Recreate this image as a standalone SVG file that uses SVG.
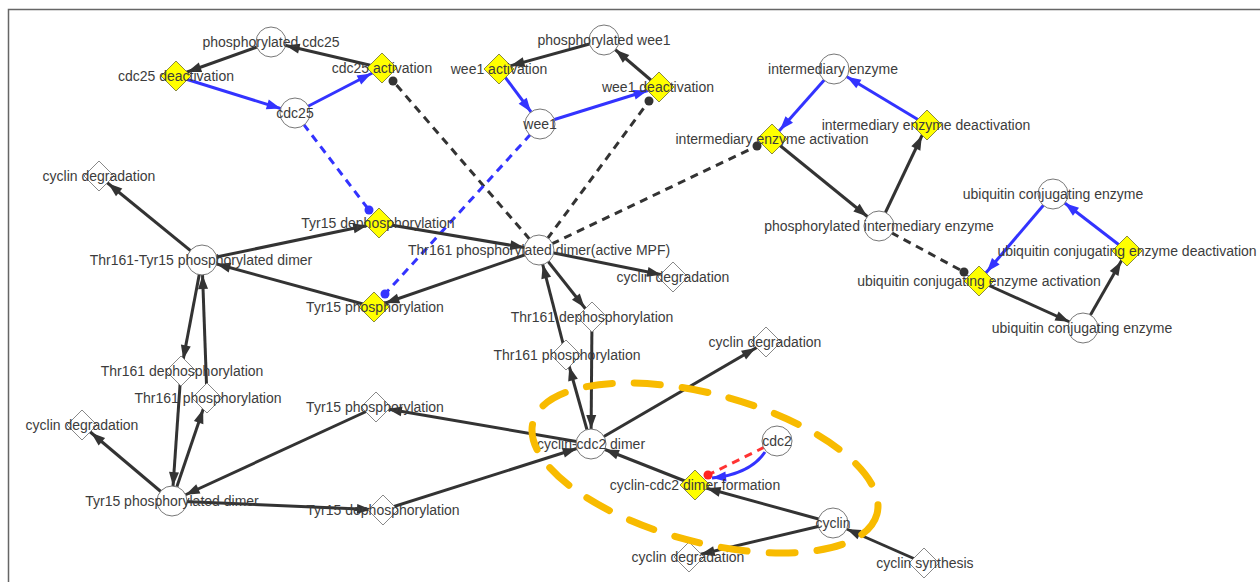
<svg xmlns="http://www.w3.org/2000/svg" xmlns:xlink="http://www.w3.org/1999/xlink" width="1260" height="582" viewBox="0 0 1260 582">
<style>
.e{stroke:#333;stroke-width:3;fill:none}
.eb{stroke:#3333ff;stroke-width:3;fill:none}
.ed{stroke:#333;stroke-width:3;fill:none;stroke-dasharray:8 6}
.ebd{stroke:#3333ff;stroke-width:3;fill:none;stroke-dasharray:8 6}
.erd{stroke:#ff3333;stroke-width:3;fill:none;stroke-dasharray:8 6}
.n{fill:#fff;stroke:#777;stroke-width:1}
.dy{fill:#ffff00;stroke:#8a8a40;stroke-width:1}
.dw{fill:#fff;stroke:#888;stroke-width:1}
.t{font-family:"Liberation Sans",Arial,sans-serif;font-size:14px;fill:#3c3c3c;text-anchor:middle}
</style>
<defs>
<polygon id="dia" points="0,-15 15,0 0,15 -15,0"/>
<marker id="aBc" markerUnits="userSpaceOnUse" markerWidth="30" markerHeight="12" refX="29" refY="5" orient="auto" overflow="visible"><path d="M0,0 L14,5 L0,10 z" fill="#333"/></marker>
<marker id="aBd" markerUnits="userSpaceOnUse" markerWidth="30" markerHeight="12" refX="26" refY="5" orient="auto" overflow="visible"><path d="M0,0 L14,5 L0,10 z" fill="#333"/></marker>
<marker id="aUc" markerUnits="userSpaceOnUse" markerWidth="30" markerHeight="12" refX="29" refY="5" orient="auto" overflow="visible"><path d="M0,0 L14,5 L0,10 z" fill="#3333ff"/></marker>
<marker id="aUd" markerUnits="userSpaceOnUse" markerWidth="30" markerHeight="12" refX="26" refY="5" orient="auto" overflow="visible"><path d="M0,0 L14,5 L0,10 z" fill="#3333ff"/></marker>
<marker id="aUt" markerUnits="userSpaceOnUse" markerWidth="16" markerHeight="12" refX="14" refY="5" orient="auto" overflow="visible"><path d="M0,0 L14,5 L0,10 z" fill="#3333ff"/></marker>
<marker id="dB" markerUnits="userSpaceOnUse" markerWidth="10" markerHeight="10" refX="5" refY="5" overflow="visible"><circle cx="5" cy="5" r="4.5" fill="#333"/></marker>
<marker id="dU" markerUnits="userSpaceOnUse" markerWidth="10" markerHeight="10" refX="5" refY="5" overflow="visible"><circle cx="5" cy="5" r="4.5" fill="#3333ff"/></marker>
<marker id="dR" markerUnits="userSpaceOnUse" markerWidth="10" markerHeight="10" refX="5" refY="5" overflow="visible"><circle cx="5" cy="5" r="4.5" fill="#ff2222"/></marker>
</defs>
<rect x="0" y="0" width="1260" height="582" fill="#fff"/>
<rect x="8.5" y="9.5" width="1400" height="700" fill="none" stroke="#666" stroke-width="1.5"/>

<g id="connectors">
<line class="e" x1="382" y1="68" x2="271" y2="42" marker-end="url(#aBc)"/>
<line class="e" x1="271" y1="42" x2="176" y2="76" marker-end="url(#aBd)"/>
<line class="eb" x1="176" y1="76" x2="295" y2="113" marker-end="url(#aUc)"/>
<line class="eb" x1="295" y1="113" x2="382" y2="68" marker-end="url(#aUd)"/>
<line class="ebd" x1="295" y1="113" x2="369" y2="210" marker-end="url(#dU)"/>
<line class="ed" x1="539" y1="250" x2="393" y2="81" marker-end="url(#dB)"/>
<line class="eb" x1="499" y1="69" x2="540" y2="124" marker-end="url(#aUc)"/>
<line class="eb" x1="540" y1="124" x2="659" y2="87" marker-end="url(#aUd)"/>
<line class="e" x1="659" y1="87" x2="604" y2="40" marker-end="url(#aBc)"/>
<line class="e" x1="604" y1="40" x2="499" y2="69" marker-end="url(#aBd)"/>
<line class="ebd" x1="540" y1="124" x2="385" y2="294" marker-end="url(#dU)"/>
<line class="ed" x1="539" y1="250" x2="649" y2="101" marker-end="url(#dB)"/>
<line class="ed" x1="539" y1="250" x2="757" y2="146" marker-end="url(#dB)"/>
<line class="eb" x1="834" y1="69" x2="772" y2="139" marker-end="url(#aUd)"/>
<line class="e" x1="772" y1="139" x2="879" y2="226" marker-end="url(#aBc)"/>
<line class="e" x1="879" y1="226" x2="927" y2="125" marker-end="url(#aBd)"/>
<line class="eb" x1="927" y1="125" x2="834" y2="69" marker-end="url(#aUc)"/>
<line class="ed" x1="879" y1="226" x2="964" y2="272" marker-end="url(#dB)"/>
<line class="eb" x1="1053" y1="194" x2="979" y2="281" marker-end="url(#aUd)"/>
<line class="e" x1="979" y1="281" x2="1083" y2="328" marker-end="url(#aBc)"/>
<line class="e" x1="1083" y1="328" x2="1127" y2="251" marker-end="url(#aBd)"/>
<line class="eb" x1="1127" y1="251" x2="1053" y2="194" marker-end="url(#aUc)"/>
<line class="e" x1="202" y1="260" x2="99" y2="176" marker-end="url(#aBd)"/>
<line class="e" x1="202" y1="260" x2="379" y2="223" marker-end="url(#aBd)"/>
<line class="e" x1="379" y1="223" x2="539" y2="250" marker-end="url(#aBc)"/>
<line class="e" x1="539" y1="250" x2="374" y2="307" marker-end="url(#aBd)"/>
<line class="e" x1="374" y1="307" x2="202" y2="260" marker-end="url(#aBc)"/>
<line class="e" x1="539" y1="250" x2="673" y2="277" marker-end="url(#aBd)"/>
<line class="e" x1="539" y1="250" x2="592" y2="317" marker-end="url(#aBd)"/>
<line class="e" x1="592" y1="317" x2="591" y2="444" marker-end="url(#aBc)"/>
<line class="e" x1="591" y1="444" x2="566" y2="355" marker-end="url(#aBd)"/>
<line class="e" x1="566" y1="355" x2="539" y2="250" marker-end="url(#aBc)"/>
<line class="e" x1="591" y1="444" x2="766" y2="342" marker-end="url(#aBd)"/>
<line class="e" x1="202" y1="260" x2="181" y2="371" marker-end="url(#aBd)"/>
<line class="e" x1="181" y1="371" x2="172" y2="501" marker-end="url(#aBc)"/>
<line class="e" x1="172" y1="501" x2="207" y2="398" marker-end="url(#aBd)"/>
<line class="e" x1="207" y1="398" x2="202" y2="260" marker-end="url(#aBc)"/>
<line class="e" x1="172" y1="501" x2="82" y2="425" marker-end="url(#aBd)"/>
<line class="e" x1="591" y1="444" x2="376" y2="407" marker-end="url(#aBd)"/>
<line class="e" x1="376" y1="407" x2="172" y2="501" marker-end="url(#aBc)"/>
<line class="e" x1="172" y1="501" x2="383" y2="510" marker-end="url(#aBd)"/>
<line class="e" x1="383" y1="510" x2="591" y2="444" marker-end="url(#aBc)"/>
<line class="e" x1="695" y1="485" x2="591" y2="444" marker-end="url(#aBc)"/>
<line class="e" x1="833" y1="523" x2="695" y2="485" marker-end="url(#aBd)"/>
<path class="eb" d="M765,452 Q750,474 712,478" marker-end="url(#aUt)"/>
<line class="erd" x1="777" y1="441" x2="708" y2="475" marker-end="url(#dR)"/>
<line class="e" x1="833" y1="523" x2="689" y2="557" marker-end="url(#aBd)"/>
<line class="e" x1="924" y1="563" x2="833" y2="523" marker-end="url(#aBc)"/>
</g>

<g id="n-pcdc25"><circle class="n" cx="271" cy="42" r="15"/><text class="t" x="271" y="47">phosphorylated cdc25</text></g>
<g id="n-cdc25"><circle class="n" cx="295" cy="113" r="15"/><text class="t" x="295" y="118">cdc25</text></g>
<g id="n-pwee1"><circle class="n" cx="604" cy="40" r="15"/><text class="t" x="604" y="45">phosphorylated wee1</text></g>
<g id="n-wee1"><circle class="n" cx="540" cy="124" r="15"/><text class="t" x="540" y="129">wee1</text></g>
<g id="n-ie"><circle class="n" cx="834" cy="69" r="15"/><text class="t" x="833" y="74">intermediary enzyme</text></g>
<g id="n-pie"><circle class="n" cx="879" cy="226" r="15"/><text class="t" x="879" y="231">phosphorylated intermediary enzyme</text></g>
<g id="n-ubt"><circle class="n" cx="1053" cy="194" r="15"/><text class="t" x="1053" y="199">ubiquitin conjugating enzyme</text></g>
<g id="n-ubb"><circle class="n" cx="1083" cy="328" r="15"/><text class="t" x="1082" y="333">ubiquitin conjugating enzyme</text></g>
<g id="n-tt"><circle class="n" cx="202" cy="260" r="15"/><text class="t" x="201" y="265">Thr161-Tyr15 phosphorylated dimer</text></g>
<g id="n-mpf"><circle class="n" cx="539" cy="250" r="15"/><text class="t" x="539" y="255">Thr161 phosphorylated dimer(active MPF)</text></g>
<g id="n-ty"><circle class="n" cx="172" cy="501" r="15"/><text class="t" x="172" y="506">Tyr15 phosphorylated dimer</text></g>
<g id="n-cc"><circle class="n" cx="591" cy="444" r="15"/><text class="t" x="591" y="449">cyclin-cdc2 dimer</text></g>
<g id="n-cdc2"><circle class="n" cx="777" cy="441" r="15"/><text class="t" x="777" y="446">cdc2</text></g>
<g id="n-cyc"><circle class="n" cx="833" cy="523" r="15"/><text class="t" x="833" y="528">cyclin</text></g>

<g id="n-cdc25deact"><use href="#dia" class="dy" x="176" y="76"/><text class="t" x="176" y="81">cdc25 deactivation</text></g>
<g id="n-cdc25act"><use href="#dia" class="dy" x="382" y="68"/><text class="t" x="382" y="73">cdc25 activation</text></g>
<g id="n-wee1act"><use href="#dia" class="dy" x="499" y="69"/><text class="t" x="499" y="74">wee1 activation</text></g>
<g id="n-wee1deact"><use href="#dia" class="dy" x="659" y="87"/><text class="t" x="658" y="92">wee1 deactivation</text></g>
<g id="n-ieact"><use href="#dia" class="dy" x="772" y="139"/><text class="t" x="772" y="144">intermediary enzyme activation</text></g>
<g id="n-iedeact"><use href="#dia" class="dy" x="927" y="125"/><text class="t" x="926" y="130">intermediary enzyme deactivation</text></g>
<g id="n-ubdeact"><use href="#dia" class="dy" x="1127" y="251"/><text class="t" x="1127" y="256">ubiquitin conjugating enzyme deactivation</text></g>
<g id="n-ubact"><use href="#dia" class="dy" x="979" y="281"/><text class="t" x="979" y="286">ubiquitin conjugating enzyme activation</text></g>
<g id="n-t15dy"><use href="#dia" class="dy" x="379" y="223"/><text class="t" x="378" y="228">Tyr15 dephosphorylation</text></g>
<g id="n-t15py"><use href="#dia" class="dy" x="374" y="307"/><text class="t" x="375" y="312">Tyr15 phosphorylation</text></g>
<g id="n-ccform"><use href="#dia" class="dy" x="695" y="485"/><text class="t" x="695" y="490">cyclin-cdc2 dimer formation</text></g>

<g id="n-cd1"><use href="#dia" class="dw" x="99" y="176"/><text class="t" x="99" y="181">cyclin degradation</text></g>
<g id="n-cd2"><use href="#dia" class="dw" x="673" y="277"/><text class="t" x="673" y="282">cyclin degradation</text></g>
<g id="n-t161dr"><use href="#dia" class="dw" x="592" y="317"/><text class="t" x="592" y="322">Thr161 dephosphorylation</text></g>
<g id="n-t161pr"><use href="#dia" class="dw" x="566" y="355"/><text class="t" x="567" y="360">Thr161 phosphorylation</text></g>
<g id="n-cd3"><use href="#dia" class="dw" x="766" y="342"/><text class="t" x="765" y="347">cyclin degradation</text></g>
<g id="n-t161dl"><use href="#dia" class="dw" x="181" y="371"/><text class="t" x="182" y="376">Thr161 dephosphorylation</text></g>
<g id="n-t161pl"><use href="#dia" class="dw" x="207" y="398"/><text class="t" x="208" y="403">Thr161 phosphorylation</text></g>
<g id="n-cd4"><use href="#dia" class="dw" x="82" y="425"/><text class="t" x="82" y="430">cyclin degradation</text></g>
<g id="n-t15p"><use href="#dia" class="dw" x="376" y="407"/><text class="t" x="375" y="412">Tyr15 phosphorylation</text></g>
<g id="n-t15d"><use href="#dia" class="dw" x="383" y="510"/><text class="t" x="383" y="515">Tyr15 dephosphorylation</text></g>
<g id="n-cd5"><use href="#dia" class="dw" x="689" y="557"/><text class="t" x="688" y="562">cyclin degradation</text></g>
<g id="n-cs"><use href="#dia" class="dw" x="924" y="563"/><text class="t" x="925" y="568">cyclin synthesis</text></g>

<g id="highlight">
<ellipse cx="705" cy="468" rx="178" ry="74" transform="rotate(15 705 468)" fill="none" stroke="#f8bb00" stroke-width="7" stroke-dasharray="26 22" stroke-linecap="round"/>
</g>
</svg>
